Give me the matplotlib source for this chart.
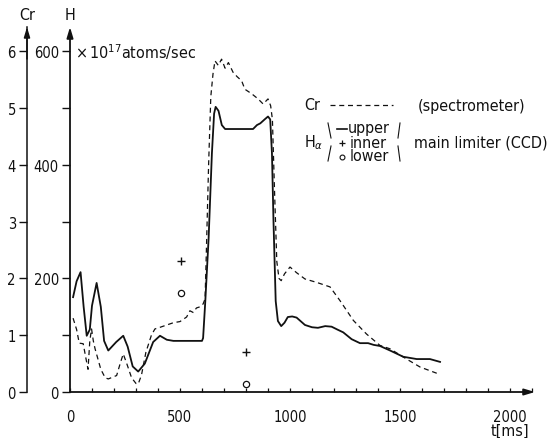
import matplotlib
matplotlib.use("Agg")
import matplotlib.pyplot as plt
from matplotlib.lines import Line2D
from matplotlib.patches import FancyArrowPatch

# ---------------- data ----------------
# H_alpha upper limiter (x10^17 atoms/sec), solid line
t_upper = [14, 30, 48, 62, 76, 90, 100, 121, 140, 155, 174, 210, 242, 262, 285, 310,
           340, 378, 409, 440, 470, 600, 605, 615, 630, 645, 655, 662, 675, 690, 705,
           832, 850, 865, 885, 900, 910, 918, 925, 935, 945, 960, 975, 990, 1010, 1030,
           1068, 1100, 1127, 1160, 1189, 1215, 1242, 1280, 1318, 1355, 1380, 1409, 1455,
           1515, 1576, 1636, 1682]
h_upper = [167, 195, 211, 150, 99, 110, 152, 192, 150, 90, 73, 88, 99, 80, 45, 36,
           50, 88, 99, 92, 90, 90, 95, 160, 270, 420, 490, 502, 495, 470, 463,
           463, 470, 473, 480, 485, 480, 420, 300, 160, 125, 116, 122, 132, 133, 131,
           118, 114, 113, 116, 115, 110, 105, 93, 86, 86, 83, 81, 73,
           62, 58, 58, 53]

# Cr (spectrometer), dashed line, Cr units
t_cr = [14, 30, 42, 60, 72, 82, 90, 98, 106, 114, 140, 160, 174, 212, 228, 242, 258,
        280, 300, 310, 325, 345, 370, 386, 410, 440, 470, 500, 530, 545, 560, 575, 591,
        605, 614, 620, 630, 640, 650, 659, 674, 689, 705, 720, 741, 760, 780, 795, 826,
        855, 878, 900, 912, 920, 930, 940, 950, 960, 975, 1000, 1030, 1068, 1121, 1182,
        1227, 1288, 1348, 1409, 1455, 1530, 1591, 1667]
cr = [1.30, 1.10, 0.86, 0.85, 0.60, 0.40, 0.90, 1.11, 0.90, 0.76, 0.40, 0.25, 0.23,
      0.29, 0.50, 0.67, 0.50, 0.25, 0.15, 0.14, 0.30, 0.70, 1.00, 1.11, 1.14, 1.18,
      1.22, 1.24, 1.32, 1.43, 1.40, 1.48, 1.50, 1.55, 1.64, 2.50, 4.00, 5.20, 5.60,
      5.83, 5.75, 5.86, 5.70, 5.80, 5.63, 5.55, 5.48, 5.33, 5.25, 5.16, 5.07, 5.16,
      5.04, 4.80, 3.50, 2.30, 2.00, 1.96, 2.08, 2.20, 2.10, 1.99, 1.93, 1.85, 1.61,
      1.26, 1.02, 0.82, 0.76, 0.58, 0.44, 0.33]

# H_alpha inner and lower limiter (CCD), markers
t_inner = [503, 800]
h_inner = [231, 71]
t_lower = [503, 800]
h_lower = [174, 14]

x_ticks = [0, 500, 1000, 1500, 2000]
h_ticks = [0, 100, 200, 300, 400, 500, 600]
h_tick_labels = ["0", "", "200", "", "400", "", "600"]
cr_ticks = [0, 1, 2, 3, 4, 5, 6]

# ---------------- style ----------------
plt.rcParams["font.family"] = ["DejaVu Sans"]
plt.rcParams["font.stretch"] = "condensed"
plt.rcParams["font.size"] = 10.5
INK = "#111111"
FS = 10.5    # numbers
FT = 11.5    # words

W, H = 558, 439
fig = plt.figure(figsize=(W / 100, H / 100), dpi=100)
fig.patch.set_facecolor("white")

def fx(x):
    return x / W

def fy(y):
    return 1 - y / H

x0, x1 = 70, 535
y0, y1 = 393, 28
ax = fig.add_axes([fx(x0), fy(y0), fx(x1) - fx(x0), fy(y1) - fy(y0)])
px_per_ms = 0.22
px_per_h = 0.568
ax.set_xlim(0, (x1 - x0) / px_per_ms)
ax.set_ylim(0, (y0 - y1) / px_per_h)
ax.patch.set_alpha(0)

for s in ["top", "right", "left", "bottom"]:
    ax.spines[s].set_visible(False)

arrow = "-|>,head_length=0.6,head_width=0.18"
ax.annotate("", xy=(1, 0), xytext=(0, 0), xycoords="axes fraction",
            arrowprops=dict(arrowstyle=arrow, color=INK, lw=1.3, shrinkA=0, shrinkB=0))
ax.annotate("", xy=(0, 1), xytext=(0, 0), xycoords="axes fraction",
            arrowprops=dict(arrowstyle=arrow, color=INK, lw=1.3, shrinkA=0, shrinkB=0))

# x ticks
ax.set_xticks(x_ticks)
ax.set_xticklabels([str(v) for v in x_ticks], fontsize=FS)
ax.set_xticks(list(range(0, 2101, 100)), minor=True)
ax.tick_params(axis="x", which="both", direction="in", length=3, width=0.9, color=INK,
               pad=12, labelcolor=INK)

# H ticks
ax.set_yticks(h_ticks)
ax.set_yticklabels(h_tick_labels, fontsize=FS)
ax.tick_params(axis="y", which="both", direction="out", length=6, width=1.0, color=INK,
               pad=2, labelcolor=INK)

# Cr axis
ax2 = ax.twinx()
ax2.set_ylim(0, (y0 - y1) / px_per_h / 100)
for s in ["top", "right", "bottom"]:
    ax2.spines[s].set_visible(False)
ax2.spines["left"].set_visible(True)
ax2.spines["left"].set_position(("outward", (x0 - 27) * 0.72))
ax2.spines["left"].set_color(INK)
ax2.spines["left"].set_linewidth(1.1)
ax2.yaxis.set_ticks_position("left")
ax2.yaxis.set_label_position("left")
ax2.set_yticks(cr_ticks)
ax2.set_yticklabels([str(v) for v in cr_ticks], fontsize=FS)
ax2.tick_params(axis="y", which="both", direction="out", length=6, width=1.0, color=INK,
                pad=2, labelcolor=INK)
ax2.patch.set_alpha(0)
fig.patches.append(FancyArrowPatch(
    (fx(27), fy(60)), (fx(27), fy(28)), transform=fig.transFigure,
    arrowstyle=arrow, mutation_scale=10, color=INK, lw=1.1, shrinkA=0, shrinkB=0))

# curves
ax.plot(t_upper, h_upper, color=INK, lw=1.3, solid_joinstyle="round")
ax.plot(t_cr, [v * 100 for v in cr], color=INK, lw=0.9, linestyle=(0, (4, 3)))
ax.plot(t_inner, h_inner, linestyle="none", marker="+", ms=6, mew=1.0, color=INK)
ax.plot(t_lower, h_lower, linestyle="none", marker="o", ms=4.5, mew=0.9, mfc="none", mec=INK)

# axis titles
fig.text(fx(27), fy(15), "Cr", ha="center", va="center", fontsize=FT, color=INK)
fig.text(fx(70), fy(15), "H", ha="center", va="center", fontsize=FT, color=INK)
fig.text(fx(75), fy(52), r"$\times\,10^{17}$atoms/sec", ha="left", va="center",
         fontsize=FT, color=INK, math_fontfamily="dejavusans")
fig.text(fx(510), fy(431), "t[ms]", ha="center", va="center", fontsize=FT, color=INK)

# legend-like annotation
fig.text(fx(304), fy(106), "Cr", ha="left", va="center", fontsize=FT, color=INK)
fig.lines.append(Line2D([fx(330), fx(393)], [fy(106), fy(106)], transform=fig.transFigure,
                        color=INK, lw=0.9, linestyle=(0, (4, 3))))
fig.text(fx(418), fy(106), "(spectrometer)", ha="left", va="center", fontsize=FT, color=INK)
fig.text(fx(304), fy(143), r"H$_\alpha$", ha="left", va="center", fontsize=FT, color=INK)
fig.lines.append(Line2D([fx(328), fx(331)], [fy(124), fy(139)], transform=fig.transFigure,
                        color=INK, lw=0.8))
fig.lines.append(Line2D([fx(331), fx(328)], [fy(147), fy(162)], transform=fig.transFigure,
                        color=INK, lw=0.8))
fig.lines.append(Line2D([fx(337), fx(347)], [fy(130), fy(130)], transform=fig.transFigure,
                        color=INK, lw=1.2))
fig.text(fx(348), fy(129), "upper", ha="left", va="center", fontsize=FT, color=INK)
fig.lines.append(Line2D([fx(342)], [fy(144)], transform=fig.transFigure, color=INK,
                        marker="+", ms=4.5, mew=0.9, linestyle="none"))
fig.text(fx(350), fy(143), "inner", ha="left", va="center", fontsize=FT, color=INK)
fig.lines.append(Line2D([fx(342)], [fy(158)], transform=fig.transFigure, color=INK,
                        marker="o", ms=3.5, mew=0.8, mfc="none", linestyle="none"))
fig.text(fx(350), fy(157), "lower", ha="left", va="center", fontsize=FT, color=INK)
fig.lines.append(Line2D([fx(400), fx(398)], [fy(124), fy(139)], transform=fig.transFigure,
                        color=INK, lw=0.8))
fig.lines.append(Line2D([fx(398), fx(400)], [fy(147), fy(162)], transform=fig.transFigure,
                        color=INK, lw=0.8))
fig.text(fx(414), fy(143), "main limiter (CCD)", ha="left", va="center", fontsize=FT, color=INK)

fig.savefig("out.png", dpi=100, facecolor="white")
